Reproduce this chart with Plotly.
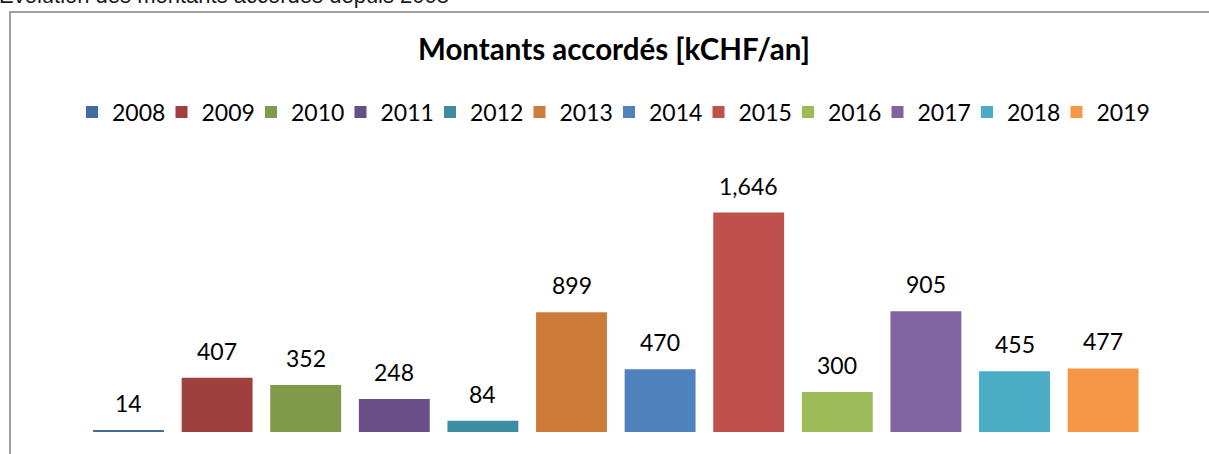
import plotly.graph_objects as go

years = ["2008", "2009", "2010", "2011", "2012", "2013",
         "2014", "2015", "2016", "2017", "2018", "2019"]
amounts = [14, 407, 352, 248, 84, 899, 470, 1646, 300, 905, 455, 477]
colors = ["#416C9E", "#9E413E", "#7F9A48", "#6A4E87", "#3C8DA4", "#CC7B38",
          "#4F81BD", "#C0504D", "#9BBB59", "#8064A2", "#4BACC6", "#F79646"]

page_heading = "Évolution des montants accordés depuis 2008"
chart_title = "Montants accordés [kCHF/an]"

W, H = 1209, 454
ML, MR, MT, MB = 10, 10, 150, 22
PW = W - ML - MR
PH = H - MT - MB

# category pitch / first bar centre in pixels (axis placement)
PITCH = 88.6
C0 = 128.5
X_LO = -(C0 - ML) / PITCH
X_HI = (W - MR - C0) / PITCH

LEG_X0 = 72      # left edge of first legend entry (px)
LEG_PITCH = 89.5 # legend entry pitch (px)
LEG_Y = 112

def px_x(p):
    return (p - ML) / PW

def px_y(p):
    return (H - MB - p) / PH

fig = go.Figure()
legend_layout = {}
for i, (yr, val, col) in enumerate(zip(years, amounts, colors)):
    key = "legend" if i == 0 else f"legend{i + 1}"
    fig.add_trace(go.Bar(x=[yr], y=[val], name=yr, marker_color=col,
                         marker_line_width=0, showlegend=True, legend=key))
    legend_layout[key] = dict(
        orientation="h", xanchor="left", yanchor="middle",
        x=px_x(LEG_X0 + i * LEG_PITCH), y=px_y(LEG_Y),
        font=dict(family="Lato", size=23, color="#000"),
        itemwidth=30, bgcolor="rgba(0,0,0,0)")

for i, val in enumerate(amounts):
    fig.add_annotation(x=i, y=val, xref="x", yref="y", text=f"{val:,}",
                       showarrow=False, yanchor="bottom", yshift=11,
                       font=dict(family="Lato", size=23, color="#000"))

fig.add_annotation(x=px_x(613.5), y=px_y(48), xref="paper", yref="paper",
                   text=f"<b>{chart_title}</b>", showarrow=False,
                   xanchor="center", yanchor="middle",
                   font=dict(family="Lato", size=29.5, color="#000"))

fig.add_annotation(x=px_x(-3), y=px_y(10), xref="paper", yref="paper",
                   text=page_heading, showarrow=False,
                   xanchor="left", yanchor="bottom",
                   font=dict(family="Liberation Sans", size=22, color="#1a1a1a"))

fig.add_shape(type="rect", xref="paper", yref="paper",
              x0=px_x(10), x1=px_x(1300), y0=px_y(600), y1=px_y(12),
              line=dict(color="#a0a0a0", width=2), fillcolor="rgba(0,0,0,0)",
              layer="below")

fig.update_layout(
    width=W, height=H,
    margin=dict(l=ML, r=MR, t=MT, b=MB, pad=0),
    paper_bgcolor="white", plot_bgcolor="white",
    barmode="overlay", bargap=0.2,
    xaxis=dict(type="category", categoryorder="array", categoryarray=years,
               range=[X_LO, X_HI], visible=False, fixedrange=True),
    yaxis=dict(range=[0, PH / 0.1333], visible=False, fixedrange=True),
    showlegend=True,
    **legend_layout,
)

fig.write_html("out.html", config={"displayModeBar": False},
               post_script="document.body.style.margin='0';document.body.style.overflow='hidden';")
